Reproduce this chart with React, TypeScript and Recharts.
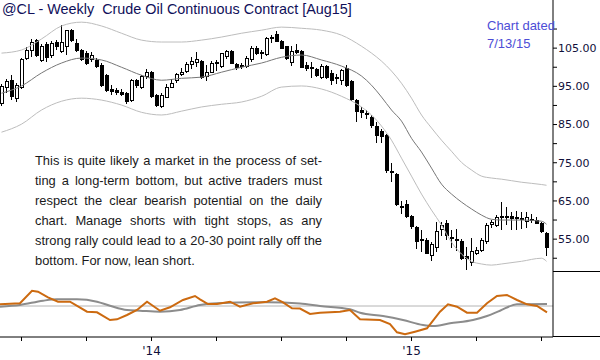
import { ComposedChart, Bar, Line, XAxis, YAxis, ReferenceLine } from "recharts";

// weekly OHLC, first bar = week of 3 Jun 2013, last = week of 6 Jul 2015
const opens = [
  90.6, 94.8, 96.6, 91.8, 94.8, 102.4, 104.5, 107.1, 101.8, 106.0,
  103.0, 106.5, 104.2, 105.5, 109.5, 106.3, 104.5, 103.5, 102.0, 101.7,
  100.5, 97.9, 94.3, 94.0, 93.5, 93.0, 91.2, 96.4, 94.8, 97.5,
  98.7, 92.5, 89.8, 92.2, 94.8, 96.6, 98.2, 98.9, 100.8, 101.3,
  101.4, 97.5, 98.7, 101.0, 100.3, 102.7, 104.0, 100.8, 100.2, 100.3,
  102.0, 105.0, 103.5, 103.4, 107.6, 108.6, 106.8, 105.3, 101.3, 104.3,
  104.1, 100.5, 100.0, 99.5, 97.4, 100.3, 98.3, 97.4, 96.5, 99.6,
  96.2, 91.4, 88.6, 88.0, 86.9, 84.6, 83.3, 82.2, 72.5, 71.8,
  63.6, 64.0, 61.0, 58.0, 54.9, 54.7, 50.8, 52.9, 57.4, 59.2,
  55.5, 55.0, 54.5, 50.4, 49.0, 51.3, 52.1, 54.4, 58.9, 58.7,
  60.8, 60.9, 61.0, 60.7, 60.5, 59.5, 60.2, 60.0, 59.1, 56.5,
];
const highs = [
  95.5, 97.0, 97.9, 96.0, 102.5, 105.2, 107.4, 107.5, 106.0, 106.5,
  106.8, 107.0, 111.0, 109.8, 110.0, 107.3, 104.8, 104.2, 104.0, 102.4,
  101.0, 98.3, 95.3, 94.6, 94.3, 93.5, 96.8, 97.0, 98.0, 99.5,
  99.1, 93.0, 93.2, 95.5, 97.0, 98.5, 99.8, 101.5, 102.7, 104.0,
  101.8, 100.5, 101.7, 102.0, 103.8, 104.5, 104.5, 101.2, 101.0, 103.0,
  105.5, 105.5, 104.5, 107.8, 108.4, 109.4, 107.0, 105.5, 105.5, 106.0,
  104.5, 101.3, 101.3, 99.8, 100.8, 100.5, 99.3, 98.2, 99.5, 100.6,
  96.6, 91.8, 89.6, 88.8, 87.5, 85.6, 83.8, 82.6, 75.0, 72.2,
  65.0, 65.3, 61.3, 58.5, 57.4, 55.2, 54.2, 59.6, 59.6, 60.0,
  57.3, 57.6, 55.0, 52.9, 55.2, 53.0, 55.3, 59.1, 60.0, 61.3,
  64.6, 63.3, 62.0, 62.3, 62.1, 62.1, 61.7, 60.8, 59.5, 56.8,
];
const lows = [
  89.8, 93.3, 91.4, 91.0, 94.3, 101.9, 102.8, 102.8, 101.3, 101.5,
  102.5, 104.5, 103.8, 103.2, 106.5, 104.0, 101.6, 100.6, 101.5, 99.8,
  94.8, 93.4, 92.7, 92.7, 92.4, 90.4, 90.8, 94.5, 94.3, 97.0,
  92.0, 89.6, 89.4, 92.0, 94.5, 96.0, 97.6, 98.5, 99.5, 100.0,
  97.0, 96.3, 98.4, 98.9, 99.7, 102.2, 100.8, 99.2, 99.5, 99.8,
  101.5, 103.2, 102.2, 103.0, 106.3, 106.6, 104.8, 101.9, 100.4, 103.5,
  99.8, 99.0, 97.2, 97.5, 97.0, 97.0, 95.3, 95.6, 95.3, 94.8,
  91.2, 85.6, 86.8, 86.5, 84.0, 80.2, 80.1, 72.4, 70.0, 63.8,
  61.5, 60.5, 57.6, 52.5, 51.6, 51.0, 49.2, 51.6, 55.8, 54.7,
  52.7, 52.0, 49.5, 47.0, 48.0, 50.8, 51.7, 53.8, 57.9, 58.1,
  57.5, 58.8, 57.4, 57.5, 57.6, 58.0, 59.1, 58.9, 56.5, 50.5,
];
const closes = [
  95.0, 96.2, 92.4, 95.3, 102.1, 104.5, 106.6, 103.2, 105.5, 102.5,
  106.3, 105.3, 106.6, 109.6, 107.0, 104.5, 102.1, 101.1, 103.2, 100.3,
  95.3, 94.0, 93.6, 93.3, 92.9, 91.0, 96.4, 95.3, 97.6, 98.7,
  92.4, 90.0, 92.7, 94.8, 95.8, 98.2, 98.7, 100.8, 101.4, 101.9,
  97.4, 98.7, 101.1, 101.3, 103.5, 104.0, 101.1, 99.9, 100.5, 102.3,
  105.0, 103.7, 103.9, 107.6, 107.9, 106.8, 105.0, 102.4, 104.2, 103.9,
  100.0, 99.8, 99.8, 97.9, 100.3, 97.4, 96.6, 97.0, 99.2, 95.3,
  91.6, 88.4, 88.2, 87.7, 84.8, 82.2, 82.0, 73.1, 72.8, 64.2,
  63.3, 60.8, 58.4, 54.5, 54.6, 51.3, 53.7, 57.0, 58.7, 56.0,
  55.3, 54.7, 50.0, 50.0, 51.8, 52.1, 54.6, 58.7, 59.4, 60.6,
  60.7, 61.0, 60.4, 60.6, 60.3, 60.6, 60.1, 59.2, 56.9, 52.7,
];

// channel lines, read every few weeks
const bandWeeks = [
  0, 4, 8, 12, 16, 20, 24, 28, 32, 36, 40, 44, 48, 52, 56, 60, 64, 68, 72, 74,
  76, 78, 80, 82, 84, 86, 88, 90, 92, 94, 96, 98, 100, 104, 108, 109,
];
const upperBand = [
  103.7, 104.5, 107.4, 110.8, 111.8, 110.8, 108.9, 107.1, 106.6, 106.6, 107.1, 107.9,
  108.9, 109.7, 110.5, 110.2, 109.7, 108.4, 105.5, 103.7, 101.6, 99.0, 95.8, 91.9,
  87.5, 84.1, 80.9, 78.0, 75.1, 73.1, 71.5, 71.0, 70.7, 69.9, 69.3, 69.1,
];
const middleBand = [
  93.2, 95.1, 98.5, 101.1, 102.4, 101.9, 100.0, 97.9, 96.6, 97.1, 97.4, 98.7,
  100.0, 101.1, 102.6, 103.2, 101.9, 100.3, 97.7, 95.3, 92.2, 88.8, 85.9, 81.4,
  77.8, 73.6, 69.4, 66.8, 64.7, 62.9, 61.3, 60.2, 60.0, 60.0, 59.7, 58.9,
];
const lowerBand = [
  83.0, 85.1, 88.8, 91.1, 91.9, 91.4, 90.1, 88.2, 87.5, 88.5, 89.6, 90.3,
  90.9, 92.4, 94.8, 95.1, 94.3, 92.4, 89.6, 87.5, 84.6, 80.9, 76.2, 71.5,
  66.8, 62.6, 58.7, 54.2, 51.1, 49.2, 48.5, 48.2, 48.5, 49.2, 50.0, 49.2,
];

// oscillator panel
const fastWeeks = [
  -0.3, 3.7, 6.1, 7.3, 9.3, 11.3, 13.7, 17.1, 19.1, 21.7, 23.1, 25.1, 27.1, 29.1,
  31.7, 33.7, 36.3, 38.7, 39.7, 41.3, 43.1, 45.7, 47.7, 50.3, 53.1, 54.7, 56.3,
  58.1, 59.7, 61.7, 63.7, 67.7, 69.7, 71.7, 75.7, 77.7, 79.1, 80.7, 82.7, 85.1,
  87.7, 89.3, 91.1, 93.1, 95.1, 97.1, 99.1, 101.1, 103.1, 105.1, 107.1, 109.1,
];
const fastOsc = [
  0.17, 0.27, 1.53, 1.43, 0.87, 0.43, 0.43, -0.57, -0.63, -1.4, -1.33, -0.9, -0.4, 0.43,
  -0.47, -0.13, 0.6, 1.0, 0.67, 0.2, 0.2, 0.43, -0.07, 0.27, 0.43, 0.77, 0.37,
  -0.23, -0.25, -0.8, -0.67, -0.57, -0.4, -1.33, -1.4, -1.8, -2.63, -2.83, -2.57, -2.23,
  -0.57, 0.17, -0.07, -0.67, -0.67, 0.27, 1.0, 1.1, 0.6, 0.17, 0.0, -0.63,
];
const slowWeeks = [
  -0.3, 3.7, 8.3, 11.1, 15.1, 19.1, 21.7, 25.1, 27.7, 31.7, 35.7, 39.7, 43.1, 53.1,
  59.7, 63.7, 69.7, 71.7, 76.3, 80.3, 84.3, 86.3, 89.7, 94.3, 97.1, 99.7, 103.1, 109.1,
];
const slowOsc = [
  -0.07, 0.1, 0.53, 0.67, 0.67, 0.43, 0.03, -0.4, -0.47, -0.57, -0.4, 0.1, 0.27, 0.37,
  0.25, 0.0, -0.33, -0.67, -1.0, -1.4, -1.9, -2.0, -1.73, -1.4, -1.0, -0.47, 0.17, 0.2,
];

const priceTicks = [50, 55, 60, 65, 70, 75, 80, 85, 90, 95, 100, 105, 110];
const weekTicks = [4, 17, 30, 43, 56, 69, 82, 95, 108];
const weekLabels: Record<number, string> = { 30: "'14", 82: "'15" };

const candles = opens.map((o, i) => ({
  w: i,
  o,
  h: highs[i],
  l: lows[i],
  c: closes[i],
  range: [lows[i], highs[i]],
}));
const bands = bandWeeks.map((w, i) => ({
  w,
  upper: upperBand[i],
  middle: middleBand[i],
  lower: lowerBand[i],
}));
const fast = fastWeeks.map((w, i) => ({ w, v: fastOsc[i] }));
const slow = slowWeeks.map((w, i) => ({ w, v: slowOsc[i] }));

const X_DOMAIN: [number, number] = [-0.3, 110.3];

function Candle(props: any) {
  const { x, y, width, height, payload } = props;
  if (!payload || height == null) return null;
  const { o, h, l, c } = payload;
  const top = Math.min(y, y + height);
  const hgt = Math.abs(height);
  const cx = Math.floor(x + width / 2) + 0.5;
  const toY = (v: number) => top + ((h - v) / (h - l || 1)) * hgt;
  const bTop = toY(Math.max(o, c));
  const bBot = toY(Math.min(o, c));
  const up = c >= o;
  return (
    <g shapeRendering="crispEdges">
      <line x1={cx} x2={cx} y1={top} y2={top + hgt} stroke="#000" />
      <rect
        x={cx - 1.5}
        y={bTop}
        width={3}
        height={Math.max(bBot - bTop, 1)}
        fill={up ? "#fff" : "#000"}
        stroke="#000"
      />
    </g>
  );
}

function PriceTick({ x, y, payload }: any) {
  if (payload.value % 10 !== 5) return null;
  return (
    <text x={x} y={y} dy="0.36em" textAnchor="start" fontFamily="DejaVu Sans" fontSize={11} fill="#10103a">
      {payload.value.toFixed(2)}
    </text>
  );
}

function WeekTick({ x, y, payload }: any) {
  const label = weekLabels[payload.value];
  if (!label) return null;
  return (
    <text x={x} y={y} dy={12} textAnchor="middle" fontFamily="DejaVu Sans" fontSize={12} fill="#10103a">
      {label}
    </text>
  );
}

const noteLines = [
  "This is quite likely a market in the process of set-",
  "ting a long-term bottom, but active traders must",
  "respect the clear bearish potential on the daily",
  "chart. Manage shorts with tight stops, as any",
  "strong rally could lead to a 20-30 point rally off the",
  "bottom. For now, lean short.",
];

export default function App() {
  return (
    <div style={{ position: "absolute", left: 0, top: 0, width: 600, height: 360, background: "#fff", overflow: "hidden" }}>
      <div style={{ position: "absolute", left: 0, top: 0 }}>
        <ComposedChart width={600} height={272} data={candles} margin={{ top: 0, right: 0, bottom: 0, left: 0 }}>
          <XAxis type="number" dataKey="w" domain={X_DOMAIN} allowDataOverflow hide />
          <YAxis
            orientation="right"
            width={47}
            domain={[46.4, 117.6]}
            allowDataOverflow
            ticks={priceTicks}
            interval={0}
            tickSize={4}
            tickMargin={1}
            axisLine={{ stroke: "#000" }}
            tickLine={{ stroke: "#000" }}
            tick={<PriceTick />}
          />
          <Line data={bands} dataKey="upper" type="monotone" stroke="#bdbdbd" strokeWidth={1} dot={false} activeDot={false} isAnimationActive={false} />
          <Line data={bands} dataKey="lower" type="monotone" stroke="#bdbdbd" strokeWidth={1} dot={false} activeDot={false} isAnimationActive={false} />
          <Line data={bands} dataKey="middle" type="monotone" stroke="#777" strokeWidth={1} dot={false} activeDot={false} isAnimationActive={false} />
          <Bar dataKey="range" barSize={3} shape={<Candle />} isAnimationActive={false} />
        </ComposedChart>
      </div>
      <div style={{ position: "absolute", left: 0, top: 272 }}>
        <ComposedChart width={600} height={88} margin={{ top: 0, right: 0, bottom: 0, left: 0 }}>
          <XAxis
            type="number"
            dataKey="w"
            domain={X_DOMAIN}
            allowDataOverflow
            ticks={weekTicks}
            interval={0}
            height={23}
            tickSize={4}
            axisLine={{ stroke: "#000" }}
            tickLine={{ stroke: "#000" }}
            tick={<WeekTick />}
          />
          <YAxis orientation="right" width={47} domain={[-3.1, 3.4]} allowDataOverflow tick={false} tickLine={false} axisLine={{ stroke: "#000" }} />
          <ReferenceLine y={0} stroke="#b4b4b4" />
          <Line data={slow} dataKey="v" type="monotone" stroke="#8c8c8c" strokeWidth={2} dot={false} activeDot={false} isAnimationActive={false} />
          <Line data={fast} dataKey="v" type="linear" stroke="#cc6a10" strokeWidth={2} dot={false} activeDot={false} isAnimationActive={false} />
        </ComposedChart>
      </div>
      <div style={{ position: "absolute", left: 553, top: 271, width: 47, height: 1, background: "#000" }} />
      <div style={{ position: "absolute", left: 553, top: 336, width: 47, height: 1, background: "#000" }} />
      <div
        style={{
          position: "absolute",
          left: 2,
          top: 1,
          whiteSpace: "pre",
          fontFamily: "Liberation Sans",
          fontSize: 14.4,
          color: "#10105a",
        }}
      >
        {"@CL - Weekly  Crude Oil Continuous Contract [Aug15]"}
      </div>
      <div
        style={{
          position: "absolute",
          left: 487,
          top: 17,
          fontFamily: "Liberation Sans",
          fontSize: 13,
          lineHeight: "18px",
          color: "#4d4dd6",
        }}
      >
        <div>Chart dated</div>
        <div>7/13/15</div>
      </div>
      {noteLines.map((t, k) => (
        <div
          key={t}
          style={{
            position: "absolute",
            left: 35,
            top: 151 + k * 20,
            width: 287,
            height: 20,
            fontFamily: "Liberation Sans",
            fontSize: 12.9,
            lineHeight: "20px",
            color: "#1a1a1a",
            textAlign: "justify",
            textAlignLast: k < noteLines.length - 1 ? "justify" : "left",
          }}
        >
          {t}
        </div>
      ))}
    </div>
  );
}
